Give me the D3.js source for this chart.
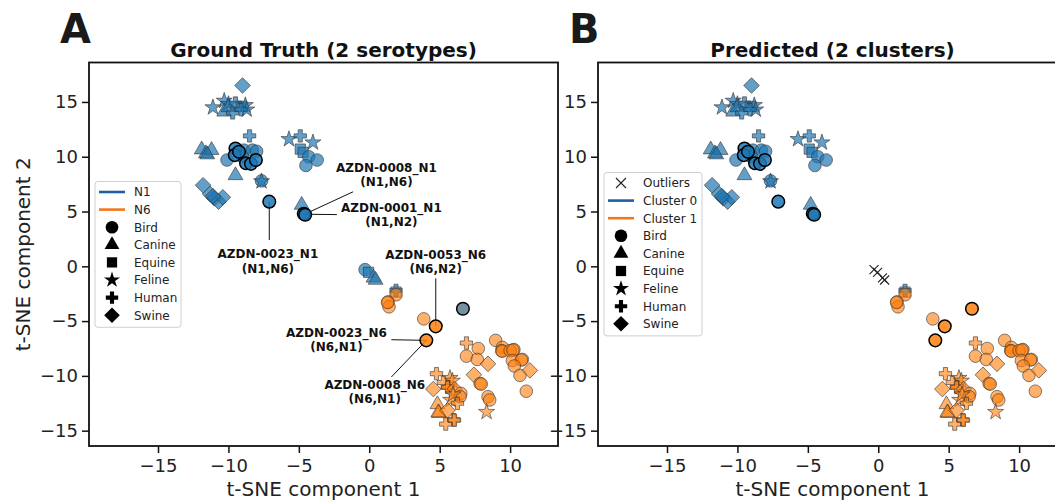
<!DOCTYPE html>
<html>
<head>
<meta charset="utf-8">
<script src="https://cdn.jsdelivr.net/npm/d3@7"></script>
<style>
  body { margin: 0; background: #fff; }
  svg { font-family: "DejaVu Sans", sans-serif; display: block; }
</style>
</head>
<body>
<svg id="chart" width="1055" height="500"></svg>
<script>
// t-SNE coordinates
const tsneX = [
  -9.0, -11.1, -10.3, -10.0, -10.3, -10.0, -9.5, -9.7, -9.1, -8.8, -8.7, -9.1,
  -8.5, -5.7, -11.9, -11.6, -11.2, -11.5, -10.1, -8.9, -8.3, -8.0, -9.0,
  -9.5, -7.65, -7.65, -11.8, -11.3, -11.0, -10.7, -10.4, -11.1,
  -4.9, -4.0, -4.9, -4.7, -4.3, -3.7, -4.5, -4.8,
  -0.3, -0.05, 0.3, 0.45,
  1.9, 1.9, 1.9, 1.33, 1.4, 1.3, 3.87,
  6.9, 7.74, 6.9, 7.67, 8.43, 7.43, 7.87, 7.95, 8.43, 8.55, 8.33,
  8.97, 9.45, 9.4, 9.45, 10.27, 10.0, 10.2, 10.16, 10.87, 10.8, 10.3, 10.7, 11.15, 11.4,
  4.77, 5.73, 5.9, 5.26, 4.55, 5.6, 5.55, 6.06, 6.5, 6.45, 5.78, 5.95, 6.26,
  4.84, 4.95, 4.9, 5.55, 5.43, 6.0, 6.05,
  -9.5, -9.55, -9.25, -8.75, -8.4, -8.05, -7.1, -4.65, -4.55,
  4.72, 4.05, 6.65
];
const tsneY = [
  16.5, 14.5, 15.1, 14.8, 14.1, 14.5, 14.9, 14.0, 14.6, 14.7, 14.3, 14.3,
  11.9, 11.6, 10.65, 10.3, 10.6, 10.2, 9.7, 10.6, 10.6, 10.5, 10.0,
  8.3, 7.8, 7.75, 7.4, 6.6, 6.2, 5.9, 6.3, 6.4,
  11.9, 11.3, 10.7, 10.4, 10.0, 9.7, 9.2, 5.6,
  -0.3, -0.55, -1.05, -1.25,
  -2.35, -2.2, -2.6, -3.25, -3.7, -3.3, -4.8,
  -7.0, -7.5, -8.2, -8.5, -8.9, -9.9, -10.7, -10.75, -11.9, -12.2, -13.3,
  -6.76, -7.4, -7.7, -7.75, -7.6, -7.7, -7.65, -8.6, -8.5, -8.55, -9.1, -9.95, -11.4, -9.5,
  -9.8, -10.2, -10.45, -10.6, -11.2, -11.0, -11.05, -11.2, -11.6, -11.9, -12.2, -11.7, -12.5,
  -12.6, -13.4, -13.35, -13.15, -14.4, -14.0, -14.05,
  10.75, 10.15, 10.45, 9.4, 9.35, 9.7, 5.9, 4.8, 4.7,
  -5.48, -6.76, -3.87
];
const hostType = [
  "Swine", "Feline", "Feline", "Feline", "Canine", "Canine", "Human", "Human", "Equine", "Feline", "Feline", "Human",
  "Human", "Feline", "Canine", "Canine", "Canine", "Canine", "Bird", "Bird", "Bird", "Bird", "Bird",
  "Canine", "Bird", "Feline", "Swine", "Swine", "Swine", "Swine", "Swine", "Swine",
  "Human", "Feline", "Equine", "Equine", "Bird", "Bird", "Bird", "Canine",
  "Bird", "Equine", "Canine", "Canine",
  "Equine", "Human", "Bird", "Bird", "Bird", "Bird", "Bird",
  "Human", "Bird", "Bird", "Bird", "Swine", "Swine", "Bird", "Bird", "Bird", "Bird", "Feline",
  "Bird", "Bird", "Bird", "Bird", "Bird", "Bird", "Bird", "Bird", "Bird", "Bird", "Bird", "Bird", "Bird", "Swine",
  "Human", "Feline", "Feline", "Human", "Swine", "Human", "Human", "Swine", "Bird", "Bird", "Feline", "Feline", "Human",
  "Canine", "Canine", "Canine", "Swine", "Human", "Human", "Human",
  "Bird", "Bird", "Bird", "Bird", "Bird", "Bird", "Bird", "Bird", "Bird",
  "Bird", "Bird", "Bird"
];
// serotype per point: N1, N6 or mixed (grey)
const serotype = [].concat(
  Array(44).fill("N1"),
  ["N6", "N1"], Array(50).fill("N6"),
  Array(9).fill("N1"),
  ["N6", "N6", "mix"]
);
// predicted cluster (-1 = outlier)
const clusterId = serotype.map((s, i) => (i >= 40 && i <= 43) ? -1 : (s === "N1" ? 0 : 1));
// points drawn with a black rim
const flagged = tsneX.map((d, i) => i >= 96);

const hosts = ["Bird", "Canine", "Equine", "Feline", "Human", "Swine"];
const xTicks = [-15, -10, -5, 0, 5, 10];
const yTicks = [-15, -10, -5, 0, 5, 10, 15];

const annotations = [
  { name: "AZDN-0008_N1", pair: "(N1,N6)", tx: 1.22, ty: 8.4, lx: -1.15, ly: 6.8, px: -4.6, py: 4.75 },
  { name: "AZDN-0001_N1", pair: "(N1,N2)", tx: 1.57, ty: 4.75, lx: -2.3, ly: 4.72, px: -4.6, py: 4.75 },
  { name: "AZDN-0023_N1", pair: "(N1,N6)", tx: -7.2, ty: 0.5, lx: -7.1, ly: 2.4, px: -7.1, py: 5.9 },
  { name: "AZDN-0053_N6", pair: "(N6,N2)", tx: 4.72, ty: 0.45, lx: 4.72, ly: -1.1, px: 4.72, py: -5.48 },
  { name: "AZDN-0023_N6", pair: "(N6,N1)", tx: -2.33, ty: -6.67, lx: 1.57, ly: -6.7, px: 4.05, py: -6.76 },
  { name: "AZDN-0008_N6", pair: "(N6,N1)", tx: 0.39, ty: -11.4, lx: 1.57, ly: -10.1, px: 4.05, py: -6.76 }
];

const blue = "#1f77b4", orange = "#ff7f0e", grey = "#5d7c8f";
const lineBlue = "#1f5fa6", lineOrange = "#f5761a";

const svg = d3.select("#chart");
const plotW = 469, plotTop = 62.5, plotBottom = 446;

const x = d3.scaleLinear().domain([-19.9, 13.4]).range([0, plotW]);
const y = d3.scaleLinear().domain([-16.4, 18.6]).range([plotBottom, plotTop]);

function markerPath(kind, s) {
  s = s || 1;
  if (kind === "Bird") return d3.symbol(d3.symbolCircle, 125 * s)();
  if (kind === "Canine") return d3.symbol(d3.symbolTriangle, 95 * s)();
  if (kind === "Equine") return d3.symbol(d3.symbolSquare, 105 * s)();
  if (kind === "Feline") return d3.symbol(d3.symbolStar, 80 * s)();
  if (kind === "Human") return d3.symbol(d3.symbolCross, 85 * s)();
  return d3.symbol(d3.symbolSquare, 122 * s)(); // swine, turned 45deg
}
function markerRot(kind) { return kind === "Swine" ? " rotate(45)" : ""; }

function drawPanel(left, mode) {
  const g = svg.append("g").attr("transform", `translate(${left},0)`);

  g.append("clipPath").attr("id", "clip" + mode)
    .append("rect").attr("x", 0).attr("y", plotTop).attr("width", plotW).attr("height", plotBottom - plotTop);

  const plot = g.append("g").attr("clip-path", `url(#clip${mode})`);

  const idx = d3.range(tsneX.length);

  function fillOf(i) {
    if (mode === "A") return serotype[i] === "mix" ? grey : (serotype[i] === "N1" ? blue : orange);
    return clusterId[i] === 0 ? blue : orange;
  }

  // annotation leader lines under the points
  if (mode === "A") {
    annotations.forEach(a => {
      plot.append("line")
        .attr("x1", x(a.lx)).attr("y1", y(a.ly))
        .attr("x2", x(a.px)).attr("y2", y(a.py))
        .attr("stroke", "#111").attr("stroke-width", 1);
    });
  }

  const shown = idx.filter(i => mode === "A" || clusterId[i] !== -1);

  plot.selectAll("path.pt")
    .data(shown)
    .enter().append("path")
    .attr("class", "pt")
    .attr("d", i => markerPath(hostType[i]))
    .attr("transform", i => `translate(${x(tsneX[i])},${y(tsneY[i])})` + markerRot(hostType[i]))
    .attr("fill", fillOf)
    .attr("fill-opacity", i => flagged[i] ? 0.85 : (fillOf(i) === orange ? 0.62 : 0.7))
    .attr("stroke", i => flagged[i] ? "#000" : "#333")
    .attr("stroke-opacity", i => flagged[i] ? 1 : 0.75)
    .attr("stroke-width", i => flagged[i] ? 1.5 : 0.8);

  if (mode === "B") {
    plot.selectAll("path.outl")
      .data(idx.filter(i => clusterId[i] === -1))
      .enter().append("path")
      .attr("class", "outl")
      .attr("d", "M-4.5,-4.5L4.5,4.5M-4.5,4.5L4.5,-4.5")
      .attr("transform", i => `translate(${x(tsneX[i])},${y(tsneY[i])})`)
      .attr("stroke", "#222").attr("stroke-width", 1.1).attr("fill", "none");
  }

  if (mode === "A") {
    annotations.forEach(a => {
      const t = g.append("text")
        .attr("x", x(a.tx)).attr("y", y(a.ty))
        .attr("text-anchor", "middle")
        .attr("font-size", 12).attr("font-weight", "bold").attr("fill", "#111");
      t.append("tspan").attr("x", x(a.tx)).attr("dy", "-0.22em").text(a.name);
      t.append("tspan").attr("x", x(a.tx)).attr("dy", "1.2em").text(a.pair);
    });
  }

  // axes
  const xAxis = d3.axisBottom(x).tickValues(xTicks).tickSize(7).tickPadding(6);
  const yAxis = d3.axisLeft(y).tickValues(yTicks).tickSize(7).tickPadding(4);

  const gx = g.append("g").attr("transform", `translate(0,${plotBottom})`).call(xAxis);
  const gy = g.append("g").call(yAxis);
  [gx, gy].forEach(ax => {
    ax.select(".domain").remove();
    ax.selectAll(".tick line").attr("stroke", "#111").attr("stroke-width", 1.5);
    ax.selectAll(".tick text").attr("font-size", 18).attr("fill", "#222")
      .attr("font-family", "DejaVu Sans, sans-serif");
  });

  g.append("rect")
    .attr("x", 0).attr("y", plotTop).attr("width", plotW).attr("height", plotBottom - plotTop)
    .attr("fill", "none").attr("stroke", "#111").attr("stroke-width", 1.8);

  g.append("text")
    .attr("x", plotW / 2).attr("y", 57)
    .attr("text-anchor", "middle").attr("font-size", 20).attr("font-weight", "bold")
    .attr("fill", "#111")
    .text(mode === "A" ? "Ground Truth (2 serotypes)" : "Predicted (2 clusters)");

  g.append("text")
    .attr("x", -29).attr("y", 43)
    .attr("font-size", 40).attr("font-weight", "bold").attr("fill", "#1a1a1a")
    .text(mode);

  g.append("text")
    .attr("x", plotW / 2).attr("y", 496)
    .attr("text-anchor", "middle").attr("font-size", 20).attr("fill", "#222")
    .text("t-SNE component 1");

  if (mode === "A") {
    g.append("text")
      .attr("transform", `translate(${-59},${(plotTop + plotBottom) / 2}) rotate(-90)`)
      .attr("text-anchor", "middle").attr("font-size", 20).attr("fill", "#222")
      .text("t-SNE component 2");
  }

  // legend
  const lineItems = mode === "A"
    ? [{ label: "N1", color: lineBlue }, { label: "N6", color: lineOrange }]
    : [{ label: "Outliers", cross: true }, { label: "Cluster 0", color: lineBlue }, { label: "Cluster 1", color: lineOrange }];
  const items = lineItems.concat(hosts.map(h => ({ label: h, host: h })));

  const lx = 6;
  const ly = mode === "A" ? 181.5 : 172.5;
  const lw = mode === "A" ? 86 : 98;
  const rowH = 17.6;
  const leg = g.append("g").attr("transform", `translate(${lx},${ly})`);
  leg.append("rect")
    .attr("width", lw).attr("height", items.length * rowH + 5)
    .attr("rx", 3).attr("fill", "#fff").attr("fill-opacity", 0.85)
    .attr("stroke", "#cfcfcf").attr("stroke-width", 1);

  items.forEach((it, k) => {
    const cy = 10.5 + k * rowH;
    if (it.color) {
      leg.append("line").attr("x1", 4).attr("x2", 30).attr("y1", cy).attr("y2", cy)
        .attr("stroke", it.color).attr("stroke-width", 2.6);
    } else if (it.cross) {
      leg.append("path").attr("d", "M-5,-5L5,5M-5,5L5,-5")
        .attr("transform", `translate(17,${cy})`)
        .attr("stroke", "#222").attr("stroke-width", 1.1).attr("fill", "none");
    } else {
      leg.append("path").attr("d", markerPath(it.host, 1.0))
        .attr("transform", `translate(17,${cy})` + markerRot(it.host))
        .attr("fill", "#000");
    }
    leg.append("text").attr("x", 39).attr("y", cy + 4.3)
      .attr("font-size", 12).attr("fill", "#222").text(it.label);
  });
}

drawPanel(89, "A");
drawPanel(598, "B");
</script>
</body>
</html>
